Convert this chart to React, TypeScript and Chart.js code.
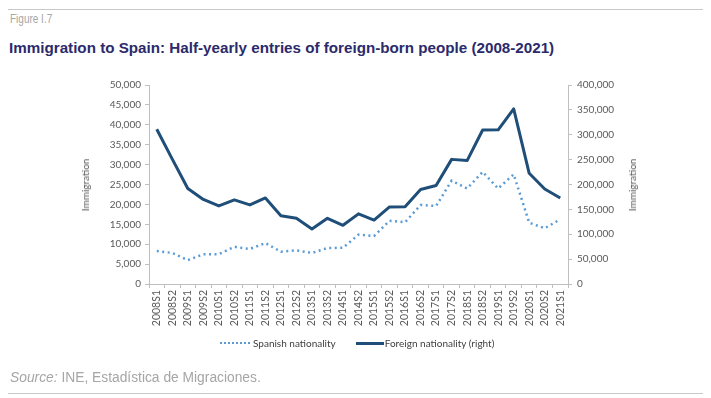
import React, { useEffect, useRef } from "react";
import { Chart, registerables } from "chart.js";
Chart.register(...registerables);

const categories = [
  "2008S1", "2008S2", "2009S1", "2009S2", "2010S1", "2010S2", "2011S1", "2011S2",
  "2012S1", "2012S2", "2013S1", "2013S2", "2014S1", "2014S2", "2015S1", "2015S2",
  "2016S1", "2016S2", "2017S1", "2017S2", "2018S1", "2018S2", "2019S1", "2019S2",
  "2020S1", "2020S2", "2021S1",
];
const spanishNationality = [
  8300, 7800, 6000, 7450, 7500, 9350, 8800, 10300, 8100, 8450, 7800, 9050, 9100, 12400,
  12050, 15900, 15500, 19850, 19600, 25950, 24000, 28150, 24000, 27550, 15400, 14000, 16250,
];
const foreignNationality = [
  311000, 251000, 192000, 170000, 157000, 169000, 159000, 173000, 137000, 132000, 110500,
  132000, 118000, 141000, 128500, 155000, 155500, 190000, 198000, 250500, 248000, 309500,
  310000, 352000, 222500, 191000, 173000,
];
const leftTicks = { min: 0, max: 50000, step: 5000 };
const rightTicks = { min: 0, max: 400000, step: 50000 };

const tickFont = { family: "Lato, 'Open Sans', sans-serif", size: 10 };
const xTickFont = { family: "Lato, 'Open Sans', sans-serif", size: 10.5 };
const fmt = (v: any) => Number(v).toLocaleString("en-US");

export default function App() {
  const ref = useRef<HTMLCanvasElement>(null);
  useEffect(() => {
    document.body.style.margin = "0";
    const chart = new Chart(ref.current!, {
      type: "line",
      data: {
        labels: categories,
        datasets: [
          {
            label: "Spanish nationality",
            data: spanishNationality,
            yAxisID: "y",
            borderColor: "#5B9BD5",
            borderWidth: 2.5,
            borderDash: [2, 3.5],
            pointRadius: 0,
            tension: 0,
            fill: false,
          },
          {
            label: "Foreign nationality (right)",
            data: foreignNationality,
            yAxisID: "y1",
            borderColor: "#1F4E79",
            borderWidth: 3,
            borderJoinStyle: "round",
            pointRadius: 0,
            tension: 0,
            fill: false,
          },
        ],
      },
      options: {
        responsive: false,
        animation: false,
        layout: { padding: { left: 79, right: 73, top: 85, bottom: 70 } },
        plugins: { legend: { display: false }, tooltip: { enabled: false } },
        scales: {
          x: {
            offset: true,
            grid: { offset: true, drawOnChartArea: false, tickLength: 4, color: "#BFBFBF" },
            border: { color: "#BFBFBF" },
            ticks: {
              minRotation: 90,
              maxRotation: 90,
              autoSkip: false,
              padding: 2,
              color: "#595959",
              font: xTickFont,
            },
            afterFit: (s: any) => {
              s.height = 44;
            },
          },
          y: {
            position: "left",
            min: leftTicks.min,
            max: leftTicks.max,
            grid: { drawOnChartArea: false, tickLength: 4, color: "#BFBFBF" },
            border: { color: "#BFBFBF" },
            ticks: { stepSize: leftTicks.step, color: "#595959", font: tickFont, padding: 4, callback: fmt },
            afterFit: (s: any) => {
              s.width = 70;
            },
          },
          y1: {
            position: "right",
            min: rightTicks.min,
            max: rightTicks.max,
            grid: { drawOnChartArea: false, tickLength: 4, color: "#BFBFBF" },
            border: { color: "#BFBFBF" },
            ticks: { stepSize: rightTicks.step, color: "#595959", font: tickFont, padding: 5, callback: fmt },
            afterFit: (s: any) => {
              s.width = 70;
            },
          },
        },
      },
    } as any);
    return () => chart.destroy();
  }, []);

  const sans = "'Liberation Sans', Arial, sans-serif";
  const small = "Lato, 'Open Sans', sans-serif";
  return (
    <div style={{ position: "absolute", left: 0, top: 0, width: 711, height: 398, background: "#fff", overflow: "hidden" }}>
      <div style={{ position: "absolute", left: 8, top: 9, width: 695, height: 1, background: "#C8C8C8" }} />
      <div style={{ position: "absolute", left: 10, top: 12, fontFamily: sans, fontSize: 12.5, color: "#A6A6A6", transform: "scaleX(0.8)", transformOrigin: "left center" }}>Figure I.7</div>
      <div style={{ position: "absolute", left: 9, top: 39, fontFamily: sans, fontSize: 15.2, fontWeight: "bold", color: "#2B2A6B", whiteSpace: "nowrap" }}>
        Immigration to Spain: Half-yearly entries of foreign-born people (2008-2021)
      </div>
      <canvas ref={ref} width={711} height={398} style={{ position: "absolute", left: 0, top: 0 }} />
      <div style={{ position: "absolute", left: 85, top: 185, transform: "translate(-50%,-50%) rotate(-90deg)", fontFamily: small, fontSize: 10, color: "#595959", whiteSpace: "nowrap" }}>Immigration</div>
      <div style={{ position: "absolute", left: 632, top: 185, transform: "translate(-50%,-50%) rotate(-90deg)", fontFamily: small, fontSize: 10, color: "#595959", whiteSpace: "nowrap" }}>Immigration</div>
      <div style={{ position: "absolute", left: 220, top: 336, height: 14, display: "flex", alignItems: "center", fontFamily: small, fontSize: 10, color: "#404040", whiteSpace: "nowrap" }}>
        <span style={{ display: "inline-block", width: 30, borderTop: "2.5px dotted #5B9BD5", marginRight: 3 }} />
        <span>Spanish nationality</span>
        <span style={{ display: "inline-block", width: 28, height: 3, background: "#1F4E79", marginLeft: 20, marginRight: 1 }} />
        <span>Foreign nationality (right)</span>
      </div>
      <div style={{ position: "absolute", left: 10, top: 370, fontFamily: sans, fontSize: 13.8, color: "#A6A6A6", whiteSpace: "nowrap" }}>
        <i>Source:</i> INE, Estadística de Migraciones.
      </div>
      <div style={{ position: "absolute", left: 8, top: 393, width: 695, height: 1, background: "#C8C8C8" }} />
    </div>
  );
}
